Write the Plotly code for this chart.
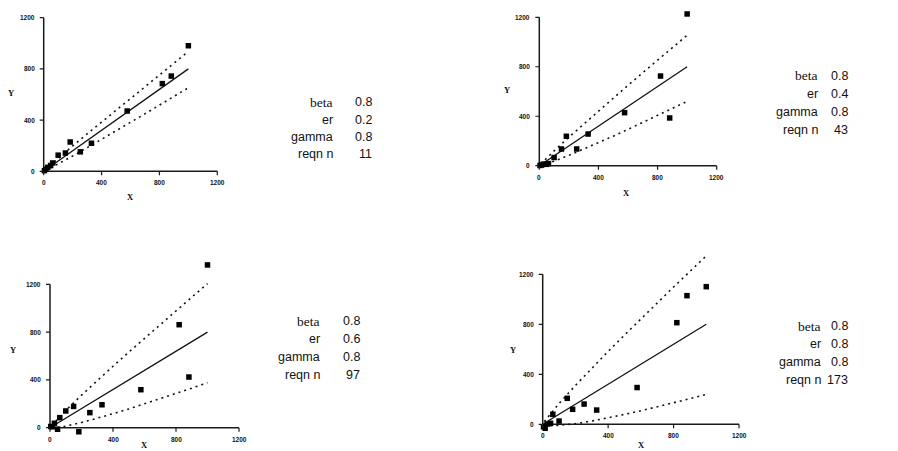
import plotly.graph_objects as go

W, H = 898, 451

# ---------------- data ----------------
X = [5, 15, 28, 48, 62, 100, 150, 183, 253, 330, 577, 820, 882, 1000]
Y_P1 = [5, 16, 31, 45, 65, 126, 143, 229, 152, 219, 471, 685, 744, 981]
Y_P2 = [2, 5, 13, 11, 17, 66, 135, 238, 135, 256, 429, 725, 386, 1227]
Y_P3 = [10, 8, 37, -13, 84, 140, 178, -34, 126, 192, 318, 862, 424, 1362]
Y_P4 = [-20, -32, 2, 8, 80, 26, 208, 120, 162, 114, 294, 813, 1029, 1101]

FIT_X = [5, 1000]
FIT_Y = [4, 800]

BX = [10, 50, 100, 200, 300, 400, 500, 600, 700, 800, 900, 1000]
UP_P1 = [11, 52, 102, 198, 292, 385, 478, 570, 662, 754, 845, 936]
LO_P1 = [4, 27, 57, 119, 184, 249, 316, 382, 449, 517, 585, 653]
UP_P2 = [14, 63, 120, 230, 337, 442, 546, 650, 752, 853, 954, 1055]
LO_P2 = [1, 15, 36, 83, 133, 186, 239, 294, 349, 406, 463, 520]
UP_P3 = [18, 77, 144, 272, 395, 514, 632, 749, 865, 979, 1092, 1205]
LO_P3 = [-3, 2, 13, 43, 78, 117, 157, 199, 242, 286, 331, 377]
UP_P4 = [22, 90, 166, 311, 449, 583, 714, 844, 971, 1098, 1223, 1347]
LO_P4 = [-6, -11, -8, 5, 26, 51, 79, 108, 139, 171, 205, 240]

TICKS = [0, 400, 800, 1200]
PARAM_NAMES = ["beta", "er", "gamma", "reqn n"]
PARAMS = [["0.8", "0.2", "0.8", "11"],
          ["0.8", "0.4", "0.8", "43"],
          ["0.8", "0.6", "0.8", "97"],
          ["0.8", "0.8", "0.8", "173"]]

SERIES = [(Y_P1, UP_P1, LO_P1), (Y_P2, UP_P2, LO_P2),
          (Y_P3, UP_P3, LO_P3), (Y_P4, UP_P4, LO_P4)]

# ---------------- layout (pixel geometry) ----------------
PANELS = [
    dict(x0=43.7, x1=217.3, y0=171.3, y1=17.7, ymin=-80, ymax=1250,
         ylab=(10.7, 93), xlab=(130, 197), txt=(335, 374, [102, 120, 137, 154])),
    dict(x0=539.3, x1=716.7, y0=165.7, y1=17.3, ymin=-80, ymax=1300,
         ylab=(506.7, 90), xlab=(626.7, 193), txt=(820, 850, [76, 94, 112, 130])),
    dict(x0=50, x1=239, y0=427.7, y1=284.3, ymin=-80, ymax=1420,
         ylab=(12.7, 350), xlab=(144, 445), txt=(322, 362, [321, 339, 357, 375])),
    dict(x0=542.7, x1=739, y0=424.3, y1=274.3, ymin=-80, ymax=1420,
         ylab=(512.7, 350), xlab=(641, 445), txt=(823, 850, [326, 344, 362, 380])),
]
XMIN, XMAX = -50, 1250

fig = go.Figure()
layout = dict(width=W, height=H, margin=dict(l=0, r=0, t=0, b=0),
              paper_bgcolor="white", plot_bgcolor="rgba(0,0,0,0)",
              showlegend=False)
shapes = []
annotations = []

AX_COL = "#1a1a1a"
TICK_FONT = dict(family="Arial", size=6.5, color="#111", weight="bold")
TITLE_FONT = dict(family="Times New Roman", size=8.5, color="#111", weight="bold")

for i, (p, (ys, up, lo)) in enumerate(zip(PANELS, SERIES)):
    n = "" if i == 0 else str(i + 1)
    xr, yr = "x" + n, "y" + n
    xppu = (p["x1"] - p["x0"]) / 1200.0
    yppu = (p["y0"] - p["y1"]) / 1200.0
    dl = p["x0"] + XMIN * xppu
    dr = p["x0"] + XMAX * xppu
    db = p["y0"] - p["ymin"] * yppu
    dt = p["y0"] - p["ymax"] * yppu
    axcommon = dict(showgrid=False, zeroline=False, showline=False,
                    showticklabels=False, ticks="", fixedrange=True)
    layout["xaxis" + n] = dict(domain=[dl / W, dr / W], range=[XMIN, XMAX],
                               anchor=yr, **axcommon)
    layout["yaxis" + n] = dict(domain=[1 - db / H, 1 - dt / H],
                               range=[p["ymin"], p["ymax"]], anchor=xr, **axcommon)

    # traces
    dotline = dict(color="#111", width=1.6, dash="2px,4px")
    fig.add_trace(go.Scatter(x=BX, y=up, mode="lines", line=dotline,
                             xaxis=xr, yaxis=yr, hoverinfo="skip"))
    fig.add_trace(go.Scatter(x=BX, y=lo, mode="lines", line=dotline,
                             xaxis=xr, yaxis=yr, hoverinfo="skip"))
    fig.add_trace(go.Scatter(x=FIT_X, y=FIT_Y, mode="lines",
                             line=dict(color="#111", width=1.3),
                             xaxis=xr, yaxis=yr, hoverinfo="skip"))
    fig.add_trace(go.Scatter(x=X, y=ys, mode="markers", cliponaxis=False,
                             marker=dict(symbol="square", size=5.5, color="black",
                                         line=dict(width=0)),
                             xaxis=xr, yaxis=yr))

    # axis lines
    shapes.append(dict(type="line", xref=xr, yref=yr, x0=0, x1=1200, y0=0, y1=0,
                       line=dict(color=AX_COL, width=1.5), layer="below"))
    shapes.append(dict(type="line", xref=xr, yref=yr, x0=0, x1=0, y0=0, y1=1200,
                       line=dict(color=AX_COL, width=1.5), layer="below"))
    for t in TICKS:
        shapes.append(dict(type="line", xref=xr, yref=yr, ysizemode="pixel",
                           yanchor=0, x0=t, x1=t, y0=0, y1=-4,
                           line=dict(color=AX_COL, width=1.2)))
        shapes.append(dict(type="line", xref=xr, yref=yr, xsizemode="pixel",
                           xanchor=0, x0=0, x1=-4, y0=t, y1=t,
                           line=dict(color=AX_COL, width=1.2)))
        annotations.append(dict(xref=xr, yref=yr, x=t, y=0, text=str(t),
                                showarrow=False, xanchor="center", yanchor="top",
                                yshift=-6, font=TICK_FONT))
        annotations.append(dict(xref=xr, yref=yr, x=0, y=t, text=str(t),
                                showarrow=False, xanchor="right", yanchor="middle",
                                xshift=-7, font=TICK_FONT))
    # axis titles
    annotations.append(dict(xref="paper", yref="paper", x=p["ylab"][0] / W,
                            y=1 - p["ylab"][1] / H, text="Y", showarrow=False,
                            xanchor="center", yanchor="middle", font=TITLE_FONT))
    annotations.append(dict(xref="paper", yref="paper", x=p["xlab"][0] / W,
                            y=1 - p["xlab"][1] / H, text="X", showarrow=False,
                            xanchor="center", yanchor="middle", font=TITLE_FONT))
    # parameter text block
    lx, vx, rows = p["txt"]
    for j, (name, val) in enumerate(zip(PARAM_NAMES, PARAMS[i])):
        fam = "Times New Roman" if name == "beta" else "Arial"
        fs = 13.5 if name == "beta" else 12.5
        annotations.append(dict(xref="paper", yref="paper", x=lx / W,
                                y=1 - rows[j] / H, text=name, showarrow=False,
                                xanchor="right", yanchor="middle",
                                font=dict(family=fam, size=fs, color="#111")))
        annotations.append(dict(xref="paper", yref="paper", x=vx / W,
                                y=1 - rows[j] / H, text=val, showarrow=False,
                                xanchor="right", yanchor="middle",
                                font=dict(family="Arial", size=12.5, color="#111")))

layout["shapes"] = shapes
layout["annotations"] = annotations
fig.update_layout(**layout)
fig.write_html("out.html")
